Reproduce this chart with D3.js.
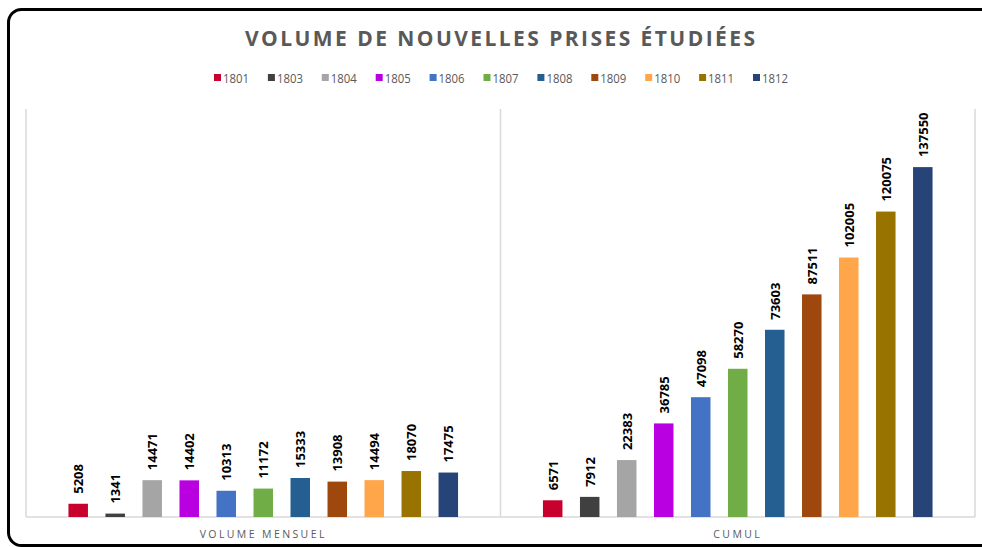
<!DOCTYPE html>
<html>
<head>
<meta charset="utf-8">
<script src="https://cdnjs.cloudflare.com/ajax/libs/d3/7.8.5/d3.min.js"></script>
<style>
  html, body { margin: 0; padding: 0; background: #fff; }
  svg { display: block; }
</style>
</head>
<body>
<script>
const categories = ["VOLUME MENSUEL", "CUMUL"];
const years = ["1801", "1803", "1804", "1805", "1806", "1807", "1808", "1809", "1810", "1811", "1812"];
const colors = ["#C8002D", "#404040", "#A5A5A5", "#B800E0", "#4472C4", "#70AD47", "#255E91", "#9E480E", "#FFA54A", "#997300", "#264478"];
const mensuel = [5208, 1341, 14471, 14402, 10313, 11172, 15333, 13908, 14494, 18070, 17475];
const cumul = [6571, 7912, 22383, 36785, 47098, 58270, 73603, 87511, 102005, 120075, 137550];
const yMax = 160000;

(function () {
const W = 982, H = 547;
const svg = d3.select("body").append("svg").attr("width", W).attr("height", H);

svg.append("rect").attr("width", W).attr("height", H).attr("fill", "#fff");

// frame
svg.append("rect")
  .attr("x", 8.5).attr("y", 9.5)
  .attr("width", 1000).attr("height", 536)
  .attr("rx", 13).attr("ry", 13)
  .attr("fill", "none").attr("stroke", "#000").attr("stroke-width", 3);

// title
svg.append("text")
  .attr("x", 500).attr("y", 46)
  .attr("text-anchor", "middle")
  .attr("font-family", "'Open Sans', sans-serif")
  .attr("font-weight", "bold")
  .attr("font-size", 21)
  .attr("fill", "#595959")
  .attr("textLength", 510)
  .attr("lengthAdjust", "spacing")
  .text("VOLUME DE NOUVELLES PRISES ÉTUDIÉES");

// legend
const legend = svg.append("g");
years.forEach((yr, i) => {
  const lx = 214 + i * 53.9;
  legend.append("rect").attr("x", lx).attr("y", 74).attr("width", 7).attr("height", 7).attr("fill", colors[i]);
  legend.append("text").attr("x", lx + 9).attr("y", 82.5)
    .attr("font-family", "'Open Sans', sans-serif").attr("font-size", 12.5)
    .attr("fill", "#595959")
    .attr("textLength", 26).attr("lengthAdjust", "spacingAndGlyphs")
    .text(yr);
});

const pLeft = 26, pRight = 975, pTop = 109, pBase = 517;
const x0 = d3.scaleBand().domain(categories).range([pLeft, pRight]).padding(0);
const x1 = d3.scaleBand().domain(years).range([0, x0.bandwidth()]).paddingInner(0.473).paddingOuter(1.147);
const y = d3.scaleLinear().domain([0, yMax]).range([pBase, 110]);

// grid lines
const grid = svg.append("g").attr("stroke", "#d9d9d9").attr("stroke-width", 1.5);
[pLeft, x0("CUMUL"), pRight].forEach(gx => {
  grid.append("line").attr("x1", gx).attr("x2", gx).attr("y1", pTop).attr("y2", pBase);
});
grid.append("line").attr("x1", pLeft).attr("x2", pRight).attr("y1", pBase).attr("y2", pBase);

const seriesData = { "VOLUME MENSUEL": mensuel, "CUMUL": cumul };

categories.forEach(cat => {
  const g = svg.append("g").attr("transform", `translate(${x0(cat)},0)`);
  const vals = seriesData[cat];
  const data = years.map((yr, i) => ({ yr, v: vals[i], c: colors[i] }));
  g.selectAll("rect").data(data).enter().append("rect")
    .attr("x", d => x1(d.yr))
    .attr("width", x1.bandwidth())
    .attr("y", d => y(d.v))
    .attr("height", d => pBase - y(d.v))
    .attr("fill", d => d.c);
  g.selectAll("text.lbl").data(data).enter().append("text")
    .attr("class", "lbl")
    .attr("transform", d => `translate(${x1(d.yr) + x1.bandwidth() / 2},${y(d.v) - 10}) rotate(-90)`)
    .attr("text-anchor", "start")
    .attr("dominant-baseline", "central")
    .attr("font-family", "'Open Sans', sans-serif")
    .attr("font-weight", "bold")
    .attr("font-size", 13)
    .attr("fill", "#000")
    .text(d => d.v);
  svg.append("text")
    .attr("x", x0(cat) + x0.bandwidth() / 2).attr("y", 538)
    .attr("text-anchor", "middle")
    .attr("font-family", "'Open Sans', sans-serif")
    .attr("font-size", 10.5)
    .attr("letter-spacing", 2.4)
    .attr("fill", "#595959")
    .text(cat);
});
})();
</script>
</body>
</html>
